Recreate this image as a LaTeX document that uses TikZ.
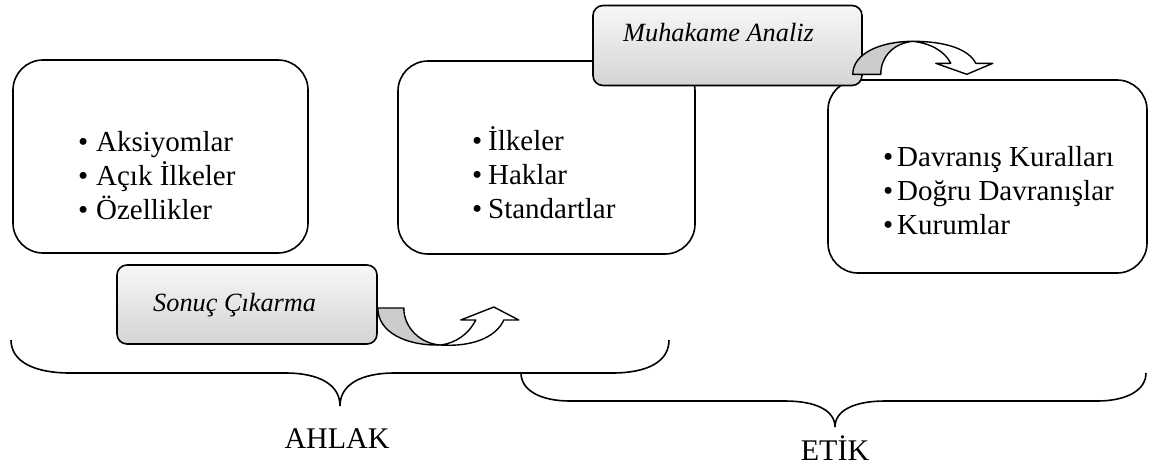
\documentclass[tikz,border=0pt]{standalone}
\usepackage{fontspec}
\setmainfont{Liberation Serif}
\usetikzlibrary{calc}

% bullet item with a fixed indent
\newcommand{\itm}[2][17pt]{\makebox[#1][l]{•}#2}

\tikzset{
  bigbox/.style={draw, line width=1.6pt, rounded corners=30pt, fill=white, inner sep=0pt},
  labelbox/.style={draw, line width=1.6pt, rounded corners=10pt,
                   top color=black!3, bottom color=black!17, inner sep=0pt},
  ribbonback/.style={draw, line width=1.4pt, fill=black!20, line join=round},
  ribbonfront/.style={draw, line width=1.4pt, fill=white, line join=round},
  bracepath/.style={draw, line width=1.6pt},
  listtext/.style={font=\fontsize{29}{34}\selectfont, align=left, anchor=west, inner sep=0pt},
  caption/.style={font=\fontsize{30}{36}\selectfont, anchor=base, inner sep=0pt},
  slabel/.style={font=\fontsize{26.3}{30}\selectfont\itshape, anchor=west, inner sep=0pt}
}

\begin{document}
\begin{tikzpicture}[x=1pt, y=-1pt]
  \useasboundingbox (0,0) rectangle (1152,467);

  % three content boxes
  \node[bigbox, minimum width=295pt, minimum height=193pt] (ahlakbox) at (160.5,156.5) {};
  \node[bigbox, minimum width=297pt, minimum height=193pt] (ilkebox)  at (546.5,157.5) {};
  \node[bigbox, minimum width=319pt, minimum height=193pt] (etikbox)  at (987.5,176.5) {};

  \node[listtext] (ahlaklist) at (78,176)
    {\itm[18pt]{Aksiyomlar}\\\itm[18pt]{Açık İlkeler}\\\itm[18pt]{Özellikler}};
  \node[listtext] (ilkelist) at (472,173)
    {\itm[16pt]{İlkeler}\\\itm[16pt]{Haklar}\\\itm[16pt]{Standartlar}};
  \node[listtext] (etiklist) at (883,191)
    {\itm[14pt]{Davranış Kuralları}\\\itm[14pt]{Doğru Davranışlar}\\\itm[14pt]{Kurumlar}};

  % braces
  \path[bracepath] (11,340) .. controls (11,362) and (35,373) .. (70,373) -- (285,373)
        .. controls (320,373) and (340,385) .. (340,406)
        .. controls (340,385) and (360,373) .. (395,373) -- (612,373)
        .. controls (647,373) and (669,362) .. (669,340);
  \path[bracepath] (521,373) .. controls (521,390) and (540,401) .. (570,401) -- (785,401)
        .. controls (815,401) and (835,410) .. (835,427)
        .. controls (835,410) and (855,401) .. (885,401) -- (1097,401)
        .. controls (1127,401) and (1146,390) .. (1146,373);

  \node[caption] (ahlak) at (337,448) {AHLAK};
  \node[caption] (etik) at (835,460) {ETİK};

  % process labels
  \node[labelbox, minimum width=260pt, minimum height=79pt] (sonuc) at (247,304.5) {};
  \node[slabel] (sonuctext) at (153,305) {Sonuç Çıkarma};
  \node[labelbox, minimum width=269pt, minimum height=80pt] (muhakame) at (727.5,45.5) {};
  \node[slabel] (muhakametext) at (623,33) {Muhakame Analiz};

  % curved arrow leaving the lower label
  \begin{scope}[shift={($(sonuc.east)-(377,304.5)$)}]
    \path[ribbonback] (377,308) -- (403,308) .. controls (403,328) and (420,344) .. (440,345)
          .. controls (405,346) and (377,332) .. (377,308) -- cycle;
    \path[ribbonfront] (440,345) .. controls (470,347) and (495,338) .. (503,320)
          -- (518,320) -- (493,307) -- (460,320) -- (475,320)
          .. controls (468,334) and (455,343) .. (440,345) -- cycle;
  \end{scope}

  % curved arrow leaving the upper label
  \begin{scope}[shift={($(muhakame.south east)-(862,85)$)}]
    \path[ribbonback] (852,73) -- (880,73) .. controls (880,55) and (893,42) .. (912,40)
          .. controls (880,40) and (852,52) .. (852,73) -- cycle;
    \path[ribbonfront] (912,40) .. controls (945,40) and (968,48) .. (975,62)
          -- (992,62) -- (966,73) -- (935,62) -- (950,62)
          .. controls (944,50) and (930,42) .. (912,40) -- cycle;
  \end{scope}
\end{tikzpicture}
\end{document}
